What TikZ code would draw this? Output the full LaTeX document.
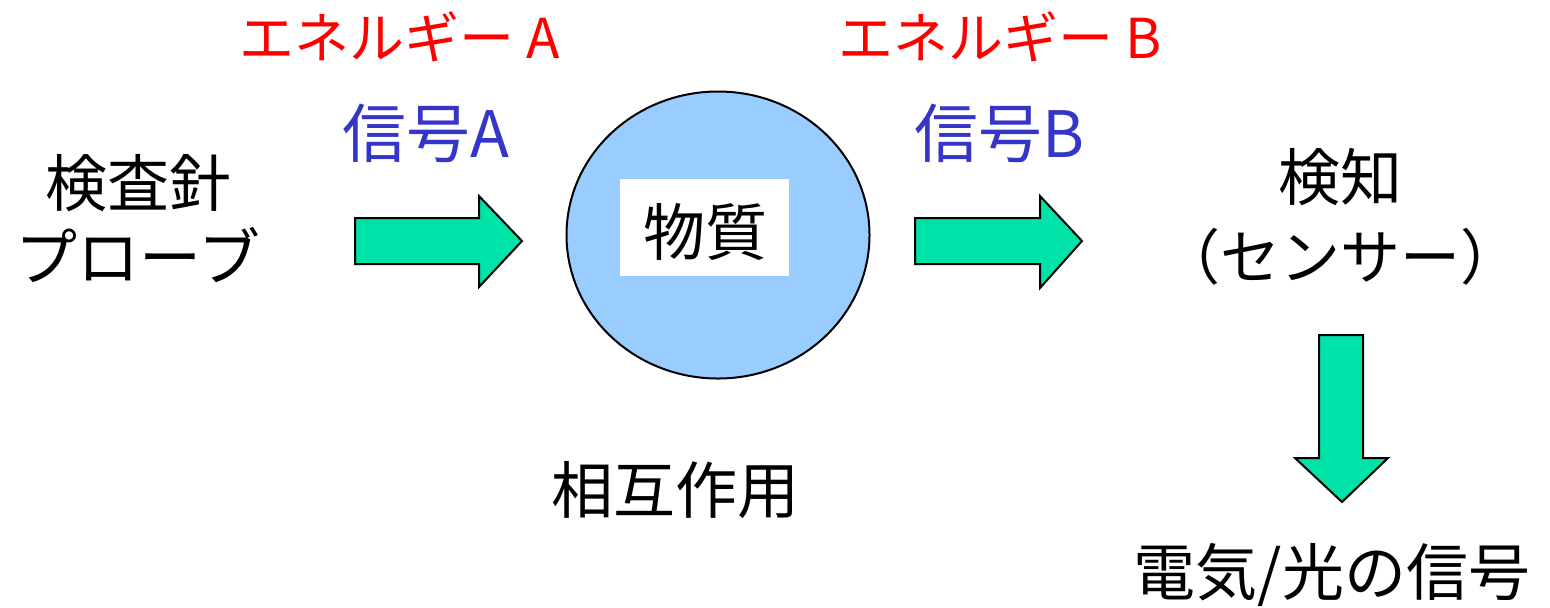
\documentclass[tikz,border=0pt]{standalone}
\usepackage{fontspec}
\setmainfont{Noto Sans CJK JP}
\usetikzlibrary{shapes.geometric}
\definecolor{arrowgreen}{HTML}{00E3A8}
\definecolor{matblue}{HTML}{99CCFF}
\definecolor{sigblue}{HTML}{3535C8}
\tikzset{
  bigarrow/.style={fill=arrowgreen, draw=black, line width=1pt, line join=miter},
  lbl/.style={inner sep=0pt, anchor=center},
  jp/.style={lbl, font=\fontsize{31}{36}\selectfont},
  energy/.style={lbl, text=red, font=\fontsize{27.5}{32}\selectfont},
  signal/.style={lbl, text=sigblue, font=\fontsize{32}{38}\selectfont},
}
\begin{document}
\begin{tikzpicture}[x=0.5pt, y=-0.5pt]
\useasboundingbox (0,0) rectangle (1550,607);
% labels
\node[jp] (probe1) at (138,183) {検査針};
\node[jp] (probe2) at (138,255) {プローブ};
\node[energy] (enA) at (400,37) {エネルギー A};
\node[energy] (enB) at (1000,37) {エネルギー B};
\node[signal] (sigA) at (426,133) {信号A};
\node[signal] (sigB) at (1000,133) {信号B};
% substance
\node[ellipse, draw=black, line width=1pt, fill=matblue, minimum width=151.5pt, minimum height=143.5pt, inner sep=0pt] (mat) at (718,235) {};
\node[fill=white, minimum width=84.5pt, minimum height=48.5pt, inner sep=0pt] (matbox) at (704.5,227.5) {};
\node[jp] (matlbl) at (705,232) {物質};
\node[jp] (inter) at (675,490) {相互作用};
% detector
\node[jp] (det1) at (1340,177) {検知};
\node[jp, font=\fontsize{30}{36}\selectfont] (det2) at (1340,257) {（センサー）};
\node[jp] (out) at (1332,575) {電気/光の信号};
% arrows
\draw[bigarrow] (355,218) -- (479,218) -- (479,196) -- (522,241) -- (479,287) -- (479,264) -- (355,264) -- cycle;
\draw[bigarrow] (915,218) -- (1040,218) -- (1040,196) -- (1082,241) -- (1040,288) -- (1040,264) -- (915,264) -- cycle;
\draw[bigarrow] (1319,335) -- (1363,335) -- (1363,458) -- (1388,458) -- (1342,502) -- (1295,458) -- (1319,458) -- cycle;
\end{tikzpicture}
\end{document}
